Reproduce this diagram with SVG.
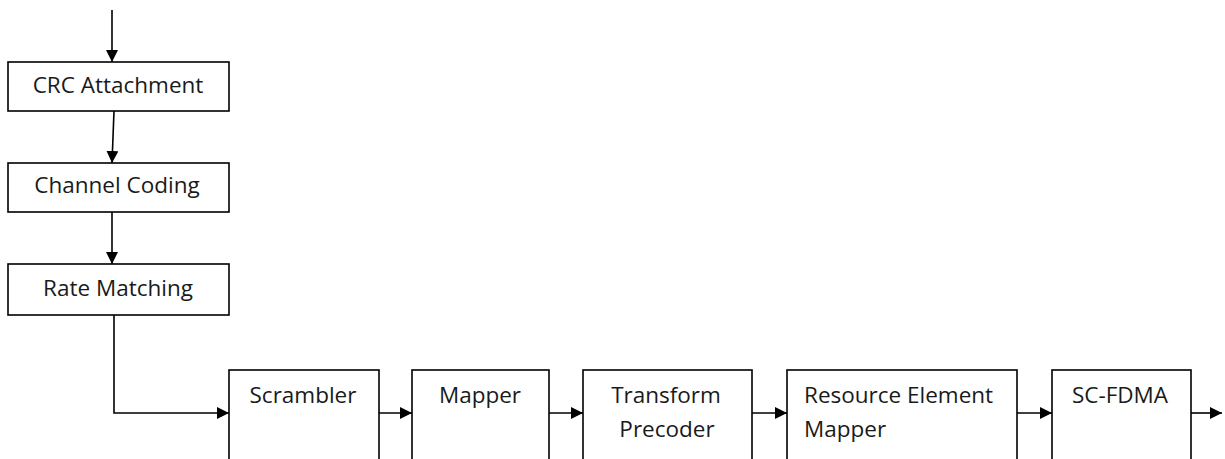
<svg xmlns="http://www.w3.org/2000/svg" width="1225" height="459" viewBox="0 0 1225 459">
  <style>
    .box { fill: #ffffff; stroke: #000000; stroke-width: 1.6; }
    .lbl { font-family: "Open Sans", "Liberation Sans", sans-serif; font-size: 22.5px; fill: #1a1a1a; }
    .mid { text-anchor: middle; }
    .wire { fill: none; stroke: #000000; stroke-width: 1.6; }
  </style>
  <defs>
    <marker id="arrow" viewBox="0 0 10 10" refX="10" refY="5" markerWidth="12" markerHeight="12" markerUnits="userSpaceOnUse" orient="auto">
      <path d="M0,0 L10,5 L0,10 Z" fill="#000000"/>
    </marker>
  </defs>

  <rect width="1225" height="459" fill="#ffffff"/>

  <!-- connectors -->
  <g id="connectors">
    <line class="wire" x1="112" y1="10" x2="112" y2="62" marker-end="url(#arrow)"/>
    <line class="wire" x1="114" y1="111" x2="112" y2="163" marker-end="url(#arrow)"/>
    <line class="wire" x1="112" y1="212" x2="112" y2="264" marker-end="url(#arrow)"/>
    <polyline class="wire" points="114,315 114,413 229,413" marker-end="url(#arrow)"/>
    <line class="wire" x1="379" y1="413" x2="412" y2="413" marker-end="url(#arrow)"/>
    <line class="wire" x1="549" y1="413" x2="583" y2="413" marker-end="url(#arrow)"/>
    <line class="wire" x1="752" y1="413" x2="787" y2="413" marker-end="url(#arrow)"/>
    <line class="wire" x1="1017" y1="413" x2="1052" y2="413" marker-end="url(#arrow)"/>
    <line class="wire" x1="1191" y1="413" x2="1222" y2="413" marker-end="url(#arrow)"/>
  </g>

  <!-- transport channel chain -->
  <g id="crc">
    <rect class="box" x="8" y="62" width="221" height="49"/>
    <text class="lbl mid" x="118" y="93">CRC Attachment</text>
  </g>
  <g id="coding">
    <rect class="box" x="8" y="163" width="221" height="49"/>
    <text class="lbl mid" x="117" y="193">Channel Coding</text>
  </g>
  <g id="ratematch">
    <rect class="box" x="8" y="264" width="221" height="51"/>
    <text class="lbl mid" x="118" y="296">Rate Matching</text>
  </g>

  <!-- physical channel chain -->
  <g id="scrambler">
    <rect class="box" x="229" y="370" width="150" height="100"/>
    <text class="lbl mid" x="303" y="403">Scrambler</text>
  </g>
  <g id="mapper">
    <rect class="box" x="412" y="370" width="137" height="100"/>
    <text class="lbl mid" x="480" y="403">Mapper</text>
  </g>
  <g id="precoder">
    <rect class="box" x="583" y="370" width="169" height="100"/>
    <text class="lbl mid" x="666" y="403">Transform</text>
    <text class="lbl mid" x="667" y="437">Precoder</text>
  </g>
  <g id="remapper">
    <rect class="box" x="787" y="370" width="230" height="100"/>
    <text class="lbl" x="804" y="403">Resource Element</text>
    <text class="lbl" x="804" y="437">Mapper</text>
  </g>
  <g id="scfdma">
    <rect class="box" x="1052" y="370" width="139" height="100"/>
    <text class="lbl mid" x="1120" y="403">SC-FDMA</text>
  </g>
</svg>
